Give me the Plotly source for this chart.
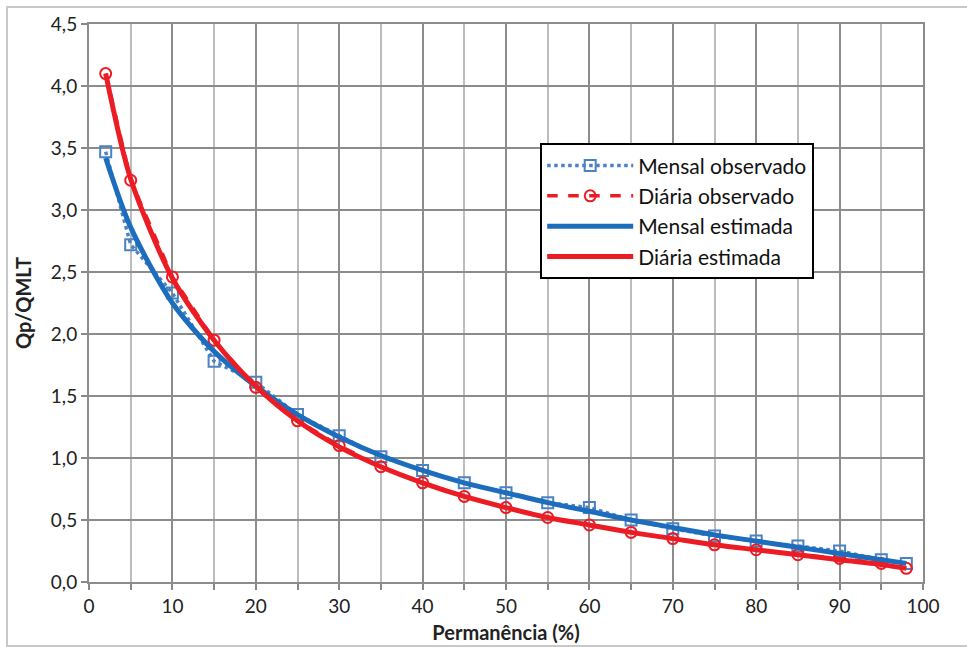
import plotly.graph_objects as go

# Data
perm = [2, 5, 10, 15, 20, 25, 30, 35, 40, 45, 50, 55, 60, 65, 70, 75, 80, 85, 90, 95, 98]
mensal_obs = [3.47, 2.72, 2.33, 1.78, 1.61, 1.35, 1.18, 1.01, 0.90, 0.80, 0.72, 0.64, 0.60,
              0.50, 0.43, 0.37, 0.33, 0.29, 0.25, 0.18, 0.15]
diaria_obs = [4.10, 3.24, 2.46, 1.95, 1.57, 1.30, 1.10, 0.93, 0.80, 0.69, 0.60, 0.52, 0.46,
              0.40, 0.35, 0.30, 0.26, 0.22, 0.19, 0.15, 0.11]
mensal_est = [3.42, 2.86, 2.25, 1.86, 1.58, 1.35, 1.17, 1.02, 0.90, 0.80, 0.72, 0.64, 0.57,
              0.50, 0.44, 0.38, 0.33, 0.28, 0.23, 0.18, 0.15]
diaria_est = [4.10, 3.25, 2.45, 1.95, 1.58, 1.30, 1.09, 0.93, 0.80, 0.69, 0.60, 0.52, 0.46,
              0.40, 0.35, 0.30, 0.26, 0.22, 0.18, 0.14, 0.11]
names = ["Mensal observado", "Diária observado", "Mensal estimada", "Diária estimada"]
x_ticks = [0, 10, 20, 30, 40, 50, 60, 70, 80, 90, 100]
y_ticks = [0, 0.5, 1.0, 1.5, 2.0, 2.5, 3.0, 3.5, 4.0, 4.5]

BLUE = "#1c6dbd"
BLUE_DOT = "#4a82c4"
RED = "#ec1c24"
FONT = "Lato"

fig = go.Figure()
fig.add_trace(go.Scatter(
    x=perm, y=mensal_obs, name=names[0], mode="lines+markers", legendgroup="a",
    line=dict(color=BLUE_DOT, width=3.5, dash="dot"),
    marker=dict(symbol="square-open", size=11, color=BLUE_DOT, line=dict(width=2))))
fig.add_trace(go.Scatter(
    x=perm, y=diaria_obs, name=names[1], mode="lines+markers", legendgroup="b",
    line=dict(color=RED, width=3.5, dash="dash"),
    marker=dict(symbol="circle-open", size=11, color=RED, line=dict(width=2))))
fig.add_trace(go.Scatter(
    x=perm, y=mensal_est, name=names[2], mode="lines", legendgroup="c",
    line=dict(color=BLUE, width=5, shape="spline", smoothing=0.8)))
fig.add_trace(go.Scatter(
    x=perm, y=diaria_est, name=names[3], mode="lines", legendgroup="d",
    line=dict(color=RED, width=5, shape="spline", smoothing=0.8)))

# outer frame of the chart
fig.add_shape(type="rect", xref="paper", yref="paper",
              x0=(7 - 89) / 834, x1=(975 - 89) / 834,
              y0=1 - (646 - 24) / 558, y1=1 + (24 - 7) / 558,
              line=dict(color="#c8c8c8", width=2), layer="below")

fig.update_layout(
    width=967, height=647,
    margin=dict(l=89, r=44, t=24, b=65),
    paper_bgcolor="white", plot_bgcolor="white",
    separators=", ",
    font=dict(family=FONT, size=19, color="#222222"),
    showlegend=True,
    legend=dict(x=0.541, y=0.786, xanchor="left", yanchor="top",
                bgcolor="white", bordercolor="black", borderwidth=2,
                font=dict(family=FONT, size=21, color="#111111"),
                tracegroupgap=0, itemwidth=86),
    xaxis=dict(range=[0, 100], tickvals=x_ticks, ticks="outside", ticklen=6,
               tickcolor="#888888", tickwidth=2, automargin=False,
               showgrid=True, gridcolor="#8c8c8c", gridwidth=2,
               minor=dict(dtick=5, tick0=0, showgrid=True, gridcolor="#bdbdbd", gridwidth=2,
                          ticks="outside", ticklen=6, tickcolor="#888888", tickwidth=2),
               showline=True, linecolor="#8c8c8c", linewidth=2, mirror=True,
               zeroline=False, title=dict(text="<b>Permanência (%)</b>", standoff=10,
                                          font=dict(size=20))),
    yaxis=dict(range=[0, 4.5], tickvals=y_ticks, tickformat=".1f", ticks="outside", ticklen=6,
               tickcolor="#888888", tickwidth=2, automargin=False,
               showgrid=True, gridcolor="#8c8c8c", gridwidth=2,
               showline=True, linecolor="#8c8c8c", linewidth=2, mirror=True,
               zeroline=False, title=dict(text="<b>Qp/QMLT</b>", standoff=14,
                                          font=dict(size=20))),
)

fig.write_html("out.html")
